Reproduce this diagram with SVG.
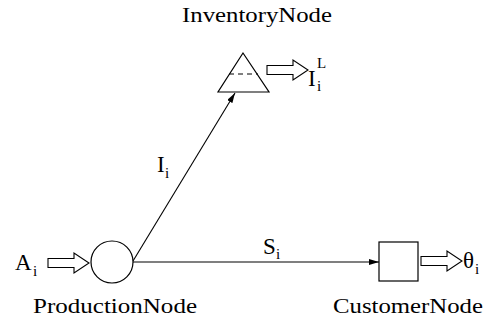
<svg xmlns="http://www.w3.org/2000/svg" width="492" height="320" viewBox="0 0 492 320">
  <style>
    .shape { fill: #fff; stroke: #000; stroke-width: 1.2; }
    .flow { fill: #fff; stroke: #000; stroke-width: 1.1; stroke-linejoin: miter; }
    .edge { fill: none; stroke: #000; stroke-width: 1.1; }
    .lbl { font-family: "Liberation Serif", "Times New Roman", serif; font-size: 22px; fill: #000; }
    .sym { font-family: "Liberation Serif", "Times New Roman", serif; font-size: 23px; fill: #000; }
    .sub { font-family: "Liberation Serif", "Times New Roman", serif; font-size: 15px; fill: #000; }
  </style>
  <defs>
    <marker id="head" viewBox="0 0 10 6" refX="10" refY="3" markerWidth="10" markerHeight="6" markerUnits="userSpaceOnUse" orient="auto">
      <path d="M0,0 L10,3 L0,6 Z" fill="#000"/>
    </marker>
    <!-- hollow block arrow, tail centre at origin -->
    <path id="blockArrow" d="M0,-4.5 H26 V-10 L41,0 L26,10 V4.5 H0 Z"/>
  </defs>

  <g id="connectors">
    <line class="edge" x1="133" y1="261" x2="235" y2="93" marker-end="url(#head)"/>
    <line class="edge" x1="133" y1="262" x2="379" y2="262" marker-end="url(#head)"/>
    <text class="sym" x="157" y="172">I</text>
    <text class="sub" x="165" y="178">i</text>
    <text class="sym" x="263" y="254">S</text>
    <text class="sub" x="276" y="259">i</text>
  </g>

  <g id="production-node">
    <use href="#blockArrow" class="flow" transform="translate(48,263)"/>
    <text class="sym" x="15" y="270">A</text>
    <text class="sub" x="33" y="276">i</text>
    <circle class="shape" cx="112" cy="262" r="21"/>
    <text class="lbl" x="33" y="313" textLength="164" lengthAdjust="spacingAndGlyphs">ProductionNode</text>
  </g>

  <g id="inventory-node">
    <text class="lbl" x="182" y="22" textLength="150" lengthAdjust="spacingAndGlyphs">InventoryNode</text>
    <polygon class="shape" points="243,53 218,92 269,92"/>
    <line x1="229" y1="74" x2="258" y2="74" stroke="#000" stroke-width="1" stroke-dasharray="5,4"/>
    <use href="#blockArrow" class="flow" transform="translate(267,70)"/>
    <text class="sym" x="308" y="86">I</text>
    <text class="sub" x="317" y="68" font-size="11">L</text>
    <text class="sub" x="317" y="91">i</text>
  </g>

  <g id="customer-node">
    <rect class="shape" x="379" y="242" width="39" height="39"/>
    <use href="#blockArrow" class="flow" transform="translate(421,261)"/>
    <text class="sym" x="463" y="268">θ</text>
    <text class="sub" x="475" y="274">i</text>
    <text class="lbl" x="333" y="313" textLength="150" lengthAdjust="spacingAndGlyphs">CustomerNode</text>
  </g>
</svg>
